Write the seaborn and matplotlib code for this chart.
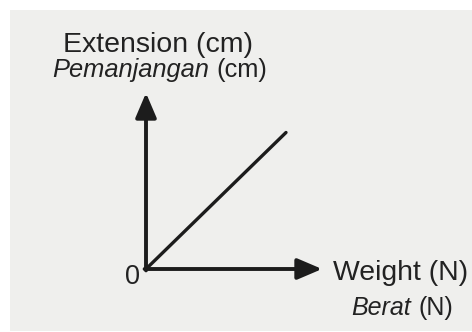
import matplotlib
matplotlib.use("Agg")
import matplotlib.pyplot as plt
import seaborn as sns
import pandas as pd

# Data
weight = [0, 8]          # N
extension = [0, 7.8]     # cm
axis_len = 10.06         # length of drawn axes (data units)

x_label = "Weight (N)"
x_label_ms = "Berat"
y_label = "Extension (cm)"
y_label_ms = "Pemanjangan"
unit_cm = "(cm)"
unit_n = "(N)"
origin_label = "0"

W, H = 472, 332
DPI = 100
sns.set_theme(style="white")
plt.rcParams['font.family'] = ['Liberation Sans', 'DejaVu Sans']

fig = plt.figure(figsize=(W / DPI, H / DPI), dpi=DPI, facecolor="white")

# axes region (paper) in pixels
L, T, R, B = 10, 10, 472, 331
ax = fig.add_axes([L / W, 1 - B / H, (R - L) / W, (B - T) / H])
ax.set_facecolor("#efefed")
scale = 17.5
ox, oy = 146, 269
ax.set_xlim((L - ox) / scale, (R - ox) / scale)
ax.set_ylim(-(B - oy) / scale, (oy - T) / scale)
for s in ax.spines.values():
    s.set_visible(False)
ax.set_xticks([])
ax.set_yticks([])

ink = "#1c1c1c"
df = pd.DataFrame({"weight": weight, "extension": extension})
sns.lineplot(data=df, x="weight", y="extension", ax=ax, color=ink, lw=2.4)
ax.set_xlabel("")
ax.set_ylabel("")

arrow = dict(arrowstyle="-|>,head_length=0.75,head_width=0.32", color=ink, lw=2.8,
             mutation_scale=20, shrinkA=0, shrinkB=0)
ax.annotate("", xy=(axis_len, 0), xytext=(-0.08, 0), arrowprops=arrow)
ax.annotate("", xy=(0, axis_len), xytext=(0, -0.08), arrowprops=arrow)

def fx(px):
    return px / W

def fy(py):
    return 1 - py / H

tc = "#222222"
fig.text(fx(158), fy(52), y_label, ha="center", va="baseline", fontsize=20.5, color=tc)
fig.text(fx(52), fy(77), y_label_ms, ha="left", va="baseline", fontsize=18.4,
         style="italic", color=tc)
fig.text(fx(267), fy(77), unit_cm, ha="right", va="baseline", fontsize=18.4, color=tc)
fig.text(fx(333), fy(280), x_label, ha="left", va="baseline", fontsize=20.4, color=tc)
fig.text(fx(351), fy(315), x_label_ms, ha="left", va="baseline", fontsize=18,
         style="italic", color=tc)
fig.text(fx(453), fy(315), unit_n, ha="right", va="baseline", fontsize=18, color=tc)
fig.text(fx(132.5), fy(284), origin_label, ha="center", va="baseline", fontsize=19.5, color=tc)

fig.savefig("out.png", dpi=DPI, facecolor="white")
